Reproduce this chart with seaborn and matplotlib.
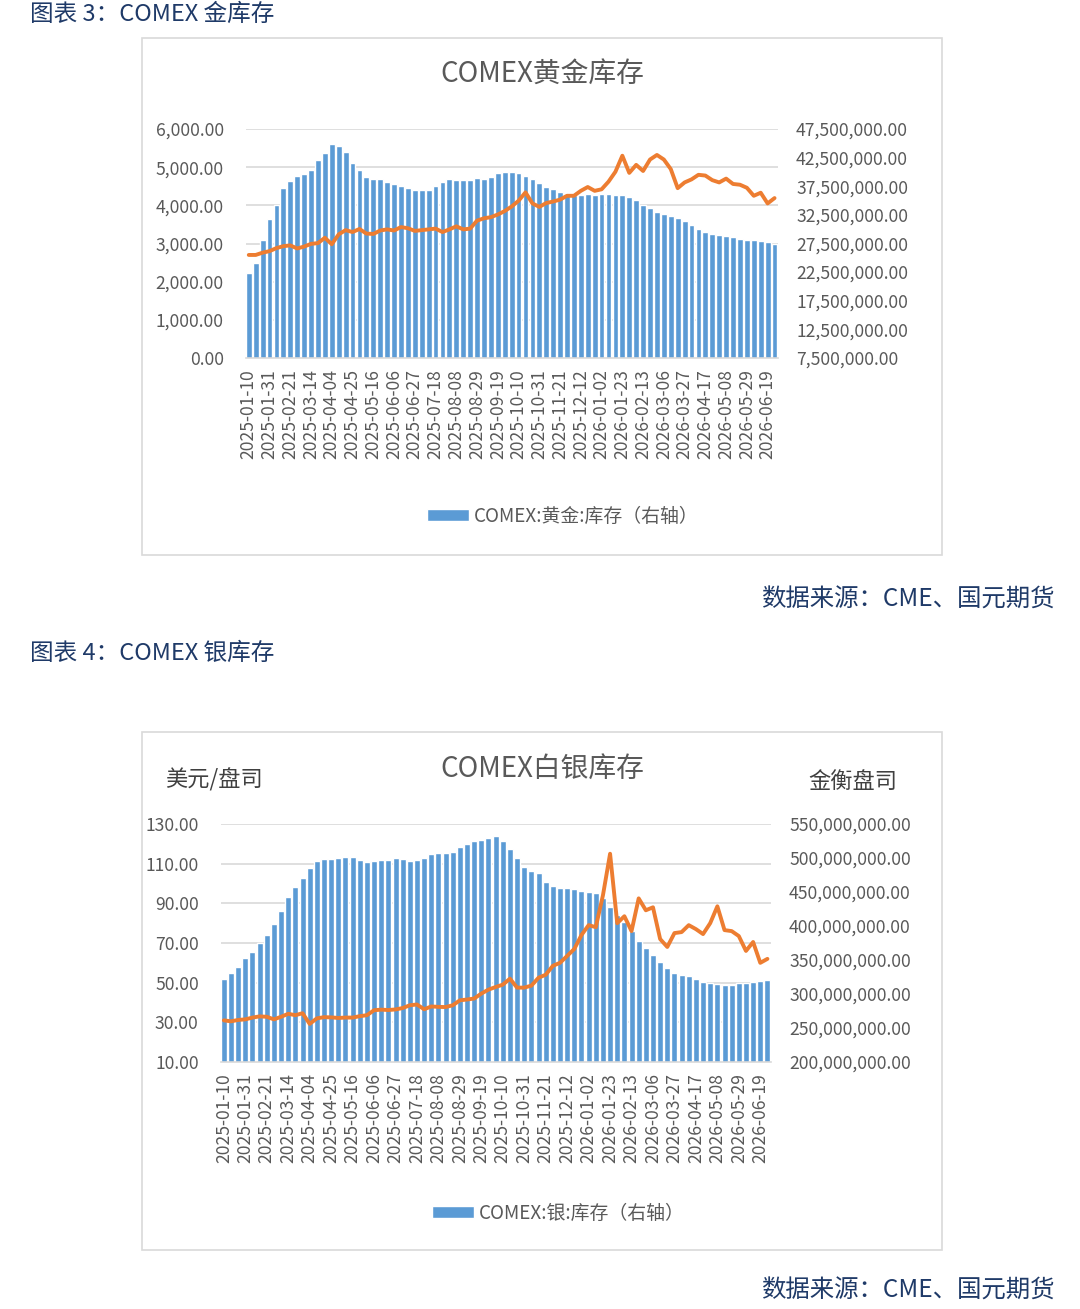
import matplotlib
matplotlib.use("Agg")
import matplotlib.pyplot as plt
import seaborn as sns
import numpy as np
import pandas as pd
from matplotlib.patches import Rectangle, Patch
from matplotlib.lines import Line2D
from matplotlib.ticker import FuncFormatter
from matplotlib.transforms import blended_transform_factory

W, H = 1080, 1309

BLUE = "#5b9bd5"
ORANGE = "#ed7d31"
GRID = "#d9d9d9"
GRAY = "#595959"
NAVY = "#1f3a68"

# weekly readings, 2025-01-10 .. 2026-06-26
gold_price = [
    2700, 2700, 2760, 2800, 2880, 2930, 2950, 2870, 2920, 2990,
    3010, 3150, 2980, 3240, 3350, 3300, 3380, 3260, 3250, 3340,
    3370, 3340, 3430, 3400, 3330, 3350, 3370, 3390, 3300, 3370,
    3450, 3370, 3390, 3600, 3660, 3690, 3760, 3850, 3970, 4120,
    4340, 4050, 3960, 4060, 4100, 4150, 4250, 4250, 4380, 4480,
    4380, 4420, 4620, 4880, 5300, 4850, 5060, 4900, 5200, 5320,
    5200, 4950, 4450, 4600, 4680, 4800, 4780, 4660, 4600, 4700,
    4560, 4540, 4460, 4250, 4330, 4050, 4190,
]
# million troy ounces
gold_stock = [
    22.37, 24.17, 28.17, 31.83, 34.17, 37.17, 38.50, 39.23, 39.57, 40.37,
    42.03, 43.37, 44.90, 44.57, 43.43, 41.63, 40.37, 39.10, 38.83, 38.70,
    38.30, 37.90, 37.63, 37.17, 36.83, 36.77, 36.83, 37.50, 38.30, 38.77,
    38.57, 38.63, 38.63, 38.90, 38.83, 39.10, 39.77, 40.03, 40.03, 39.83,
    39.23, 38.77, 38.03, 37.43, 37.03, 36.50, 36.17, 36.03, 36.03, 36.17,
    36.03, 36.17, 36.10, 36.03, 35.90, 35.70, 35.17, 34.30, 33.63, 33.03,
    32.70, 32.30, 31.90, 31.43, 30.70, 30.10, 29.50, 29.17, 29.03, 28.77,
    28.57, 28.30, 28.17, 28.03, 27.90, 27.83, 27.50,
]
silver_price = [
    31.0, 30.5, 31.2, 31.5, 32.4, 33.0, 32.8, 31.5, 32.8, 34.3,
    33.6, 34.6, 29.2, 32.0, 32.6, 32.5, 32.2, 32.4, 32.4, 33.1,
    33.6, 36.1, 36.4, 36.2, 36.5, 37.2, 38.6, 39.0, 36.6, 38.0,
    37.8, 37.7, 38.6, 41.1, 41.5, 42.0, 44.5, 46.5, 47.8, 49.0,
    52.0, 47.5, 47.5, 48.5, 52.5, 54.0, 58.5, 60.0, 63.5, 67.0,
    74.0, 79.0, 78.0, 94.0, 115.0, 80.0, 83.5, 76.0, 92.5, 86.5,
    88.0, 72.0, 68.0, 75.0, 75.5, 79.0, 77.0, 74.5, 80.0, 88.5,
    76.5, 76.0, 73.5, 66.0, 70.5, 60.0, 62.0,
]
silver_stock = [
    322.5, 331.3, 340.0, 353.1, 361.9, 375.0, 386.7, 402.7, 421.7, 442.1,
    456.7, 471.3, 485.8, 496.0, 498.1, 498.7, 499.8, 502.2, 501.9, 497.5,
    494.6, 496.0, 496.6, 497.5, 499.3, 498.4, 496.3, 496.9, 499.8, 506.3,
    507.4, 508.0, 509.2, 516.5, 520.3, 525.2, 525.8, 529.6, 531.9, 525.2,
    513.4, 500.4, 487.3, 481.2, 477.9, 465.4, 459.0, 456.4, 455.5, 454.4,
    451.7, 449.7, 449.1, 440.6, 427.5, 415.8, 406.2, 392.5, 377.9, 367.7,
    357.5, 347.3, 338.5, 331.3, 327.8, 326.3, 322.5, 317.5, 315.5, 315.2,
    312.6, 313.8, 315.5, 316.1, 317.3, 319.0, 321.3,
]

weeks = pd.date_range("2025-01-10", periods=len(gold_price), freq="7D")
tick_labels = list(weeks[::3].strftime("%Y-%m-%d"))

sns.set_theme(style="white")
plt.rcParams["font.family"] = ["Noto Sans CJK SC", "DejaVu Sans"]


def px(x, y):
    return x / W, 1 - y / H


def fmt(v, _):
    return f"{v:,.2f}"


def draw_panel(fig, box, rect, price, stock, left_ticks, right_ticks,
               title, title_y, legend_label, legend_xy):
    x0, y0, x1, y1 = box
    fig.patches.append(Rectangle(px(x0, y1), (x1 - x0) / W, (y1 - y0) / H,
                                 transform=fig.transFigure, fill=False,
                                 edgecolor=GRID, lw=1.2))
    l, t, r, b = rect
    ax = fig.add_axes([l / W, 1 - b / H, (r - l) / W, (b - t) / H])
    idx = list(range(len(price)))
    sns.barplot(x=idx, y=[v * 1e6 for v in stock], color=BLUE, saturation=1,
                width=0.84, errorbar=None, ax=ax)
    ax2 = ax.twinx()
    sns.lineplot(x=idx, y=price, color=ORANGE, linewidth=2.8, ax=ax2)

    ax.set_xlim(-0.4, len(price) - 0.5)
    ax.set_ylim(right_ticks[0], right_ticks[-1])
    ax2.set_ylim(left_ticks[0], left_ticks[-1])
    ax.set_yticks(right_ticks)
    ax2.set_yticks(left_ticks)
    ax.yaxis.tick_right()
    ax2.yaxis.tick_left()
    ax.yaxis.set_major_formatter(FuncFormatter(fmt))
    ax2.yaxis.set_major_formatter(FuncFormatter(fmt))

    # gridlines follow the left (price) axis but sit behind the bars
    trans = blended_transform_factory(ax.transAxes, ax2.transData)
    for tv in left_ticks[1:]:
        ax.add_line(Line2D([0, 1], [tv, tv], transform=trans, color=GRID,
                           lw=1.2, zorder=0.5))

    ax.set_xticks(idx[::3])
    ax.set_xticklabels(tick_labels, rotation=90)
    ax.tick_params(axis="x", length=5, width=1, color=GRID, pad=3,
                   labelsize=12.6, labelcolor=GRAY)
    ax.tick_params(axis="y", length=0, pad=13, labelsize=12.6, labelcolor=GRAY)
    ax2.tick_params(axis="y", length=0, pad=16, labelsize=12.6, labelcolor=GRAY)
    for a in (ax, ax2):
        a.set_xlabel("")
        a.set_ylabel("")
        for s in a.spines.values():
            s.set_visible(False)
    ax.spines["bottom"].set_visible(True)
    ax.spines["bottom"].set_color(GRID)
    ax.spines["bottom"].set_linewidth(1.2)

    fig.text(*px(542, title_y), title, ha="center", va="center",
             fontsize=20, color=GRAY)
    fig.legend(handles=[Patch(facecolor=BLUE)], labels=[legend_label],
               loc="center left", bbox_to_anchor=px(*legend_xy), frameon=False,
               borderpad=0, handlelength=2.2, handleheight=0.6,
               handletextpad=0.25, fontsize=13.6, labelcolor=GRAY)
    return ax, ax2


fig = plt.figure(figsize=(W / 100, H / 100), dpi=100)

fig.text(*px(30, 14), "图表 3：COMEX 金库存", ha="left", va="center",
         fontsize=17, color=NAVY)
draw_panel(fig, (142, 38, 942, 555), (246, 129, 778, 358),
           gold_price, gold_stock,
           np.arange(0, 6001, 1000), np.arange(7.5e6, 47.6e6, 5e6),
           "COMEX黄金库存", 74, "COMEX:黄金:库存（右轴）", (418, 516))
fig.text(*px(1055, 600), "数据来源：CME、国元期货", ha="right", va="center",
         fontsize=17.6, color=NAVY)

fig.text(*px(30, 653), "图表 4：COMEX 银库存", ha="left", va="center",
         fontsize=17, color=NAVY)
draw_panel(fig, (142, 732, 942, 1250), (221, 824, 771, 1062),
           silver_price, silver_stock,
           np.arange(10, 131, 20), np.arange(200e6, 551e6, 50e6),
           "COMEX白银库存", 769, "COMEX:银:库存（右轴）", (423, 1213))
fig.text(*px(165, 780), "美元/盘司", ha="left", va="center",
         fontsize=16, color="#404040")
fig.text(*px(808, 782), "金衡盘司", ha="left", va="center",
         fontsize=16, color="#404040")
fig.text(*px(1055, 1291), "数据来源：CME、国元期货", ha="right", va="center",
         fontsize=17.6, color=NAVY)

fig.savefig("out.png", dpi=100)
